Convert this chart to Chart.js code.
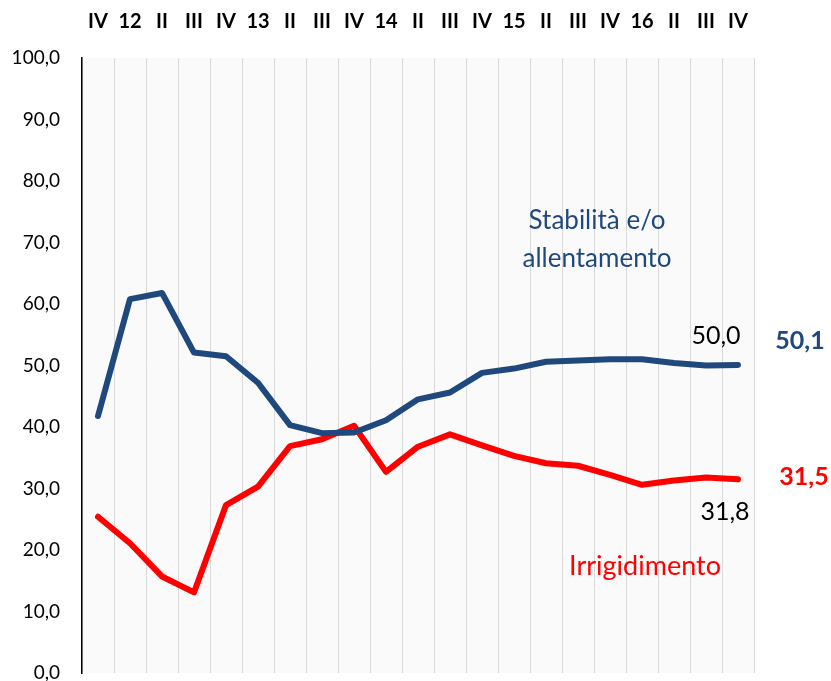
<!DOCTYPE html>
<html>
<head>
<meta charset="utf-8">
<script src="https://cdn.jsdelivr.net/npm/chart.js@4/dist/chart.umd.min.js"></script>
<style>
  html, body { margin: 0; padding: 0; background: #ffffff; }
  #wrap { width: 831px; height: 681px; }
</style>
</head>
<body>
<div id="wrap"><canvas id="c" width="831" height="681"></canvas></div>
<script>
// Quarter labels (Q4 2011 .. Q4 2016)
const quarters = ['IV','12','II','III','IV','13','II','III','IV','14','II','III','IV','15','II','III','IV','16','II','III','IV'];

// Share of answers: stability / easing
const stabilita = [41.8, 60.8, 61.8, 52.1, 51.5, 47.2, 40.3, 39.0, 39.1, 41.1, 44.5, 45.6, 48.8, 49.5, 50.6, 50.8, 51.0, 51.0, 50.4, 50.0, 50.1];

// Share of answers: tightening
const irrigidimento = [25.4, 21.1, 15.7, 13.1, 27.3, 30.3, 36.9, 38.0, 40.2, 32.7, 36.8, 38.8, 37.0, 35.3, 34.1, 33.7, 32.2, 30.6, 31.3, 31.8, 31.5];

const yTicks = { min: 0, max: 100, step: 10 };

const BLUE = '#1F497D';
const RED = '#FF0000';
const FONT = 'Lato, "Open Sans", sans-serif';

const fmt = v => v.toFixed(1).replace('.', ',');

// Light plot background
const plotBg = {
  id: 'plotBg',
  beforeDraw(chart) {
    const { ctx, chartArea: a } = chart;
    ctx.save();
    ctx.fillStyle = '#fafafa';
    ctx.fillRect(a.left, a.top, a.right - a.left, a.bottom - a.top);
    ctx.restore();
  }
};

// Series names and value labels
const labels = {
  id: 'labels',
  afterDatasetsDraw(chart) {
    const { ctx, chartArea: a, scales: { x, y } } = chart;
    const n = quarters.length;
    ctx.save();
    ctx.textAlign = 'center';
    ctx.textBaseline = 'alphabetic';

    ctx.font = '26px ' + FONT;
    ctx.fillStyle = BLUE;
    ctx.fillText('Stabilità e/o', a.left + 515, a.top + 171);
    ctx.fillText('allentamento', a.left + 515, a.top + 209);

    ctx.font = '27px ' + FONT;
    ctx.fillStyle = RED;
    ctx.fillText('Irrigidimento', a.left + 563, a.top + 517);

    // previous quarter values
    ctx.font = '25px ' + FONT;
    ctx.fillStyle = '#000000';
    const xp = x.getPixelForValue(n - 2);
    ctx.fillText(fmt(stabilita[n - 2]), xp + 10, y.getPixelForValue(stabilita[n - 2]) - 22);
    ctx.fillText(fmt(irrigidimento[n - 2]), xp + 19, y.getPixelForValue(irrigidimento[n - 2]) + 43);

    // latest values
    ctx.font = 'bold 25px ' + FONT;
    const xl = x.getPixelForValue(n - 1);
    ctx.fillStyle = BLUE;
    ctx.fillText(fmt(stabilita[n - 1]), xl + 62, y.getPixelForValue(stabilita[n - 1]) - 16);
    ctx.fillStyle = RED;
    ctx.fillText(fmt(irrigidimento[n - 1]), xl + 66, y.getPixelForValue(irrigidimento[n - 1]) + 6);
    ctx.restore();
  }
};

new Chart(document.getElementById('c'), {
  type: 'line',
  data: {
    labels: quarters,
    datasets: [
      {
        label: 'Stabilità e/o allentamento',
        data: stabilita,
        borderColor: BLUE,
        borderWidth: 6,
        pointRadius: 0,
        tension: 0,
        borderCapStyle: 'round',
        borderJoinStyle: 'round',
        fill: false
      },
      {
        label: 'Irrigidimento',
        data: irrigidimento,
        borderColor: RED,
        borderWidth: 6,
        pointRadius: 0,
        tension: 0,
        borderCapStyle: 'round',
        borderJoinStyle: 'round',
        fill: false
      }
    ]
  },
  options: {
    responsive: false,
    animation: false,
    events: [],
    layout: { padding: { left: 0, right: 77, top: 0, bottom: 8 } },
    plugins: {
      legend: { display: false },
      tooltip: { enabled: false }
    },
    scales: {
      x: {
        type: 'category',
        position: 'top',
        offset: true,
        grid: { offset: true, color: '#d9d9d9', lineWidth: 1, drawTicks: false },
        border: { display: false },
        ticks: {
          color: '#000000',
          font: { family: FONT, size: 20, weight: 'bold' },
          padding: 24,
          maxRotation: 0,
          autoSkip: false
        },
        afterFit(s) { s.height = 58; s.paddingLeft = 0; s.paddingRight = 0; }
      },
      y: {
        min: yTicks.min,
        max: yTicks.max,
        grid: { display: false },
        border: { display: true, color: '#000000', width: 1.5 },
        ticks: {
          stepSize: yTicks.step,
          color: '#000000',
          font: { family: FONT, size: 19 },
          padding: 14,
          callback: v => fmt(v)
        },
        afterFit(s) { s.width = 82; s.paddingTop = 0; s.paddingBottom = 0; }
      }
    }
  },
  plugins: [plotBg, labels]
});
</script>
</body>
</html>
